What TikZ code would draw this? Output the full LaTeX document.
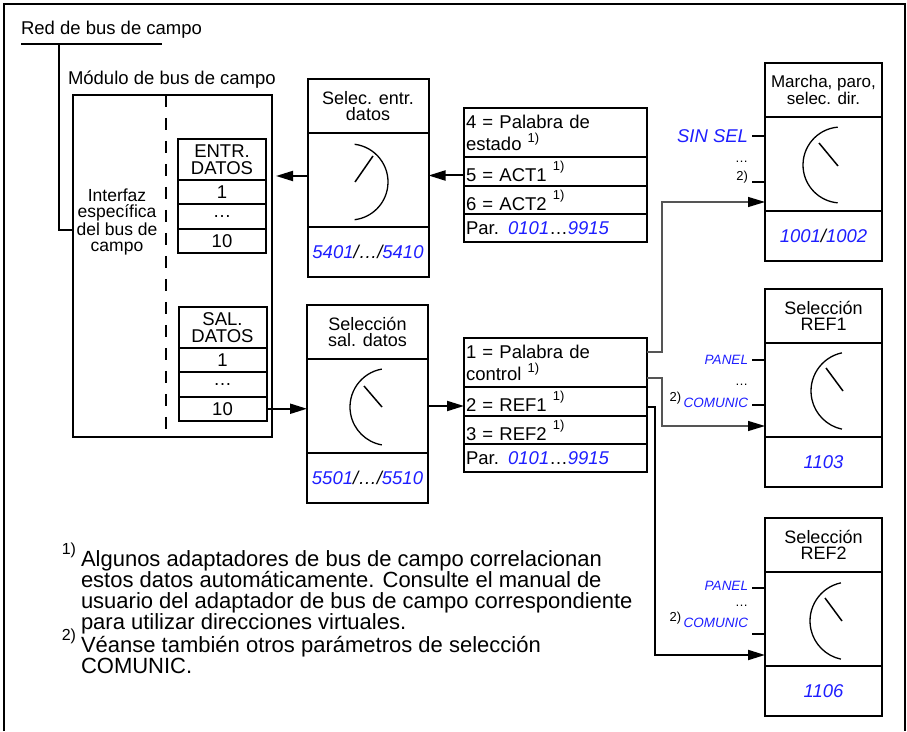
\documentclass[tikz,border=0pt]{standalone}
\usepackage{fontspec}
\setmainfont{Liberation Sans}
\usetikzlibrary{arrows.meta,positioning,calc}
\definecolor{parblue}{HTML}{1E1EFF}
\definecolor{wire}{HTML}{555555}
\newcommand{\supmark}[2][11pt]{\raisebox{#1}{\fontsize{13}{13}\selectfont\color{black}\upshape #2}}
\newcommand{\notemark}[1]{\raisebox{12pt}{\fontsize{16}{16}\selectfont #1}}
\newcommand{\parno}[1]{{\color{parblue}\itshape #1}}

\begin{document}
\begin{tikzpicture}[x=1pt,y=1pt,every node/.style={inner sep=0pt,outer sep=0pt},
  boxline/.style={draw,line width=2pt},
  selhead/.style={boxline,minimum width=121pt,minimum height=54pt,align=center,font=\fontsize{18}{16.5}\selectfont},
  selmid/.style={boxline,minimum width=121pt,minimum height=94pt},
  selpar/.style={boxline,minimum width=121pt,minimum height=50pt,font=\fontsize{18.5}{18.5}\selectfont\itshape},
  dathead/.style={boxline,minimum width=88pt,minimum height=41pt,align=center,font=\fontsize{18.5}{17}\selectfont},
  datrow/.style={boxline,minimum width=88pt,minimum height=24.3pt,font=\fontsize{18.5}{18}\selectfont},
  parrow/.style={boxline,text width=179pt,inner xsep=2pt,align=left,font=\fontsize{18.5}{22}\selectfont},
  txt/.style={font=\fontsize{18.5}{18.5}\selectfont},
  lbl/.style={font=\fontsize{18.5}{18.5}\selectfont\itshape,text=parblue},
  lblsm/.style={font=\fontsize{13.5}{13.5}\selectfont\itshape,text=parblue},
  dots/.style={font=\fontsize{13}{13}\selectfont},
  note/.style={font=\fontsize{22}{21}\selectfont,align=left,anchor=north west},
  bus/.style={line width=2pt},
  tick/.style={line width=2pt},
  dial/.style={line width=1.3pt},
  needle/.style={line width=1.5pt},
  arr/.style={line width=2pt,-{Triangle[length=17pt,width=10pt]}},
  thinarr/.style={line width=1.2pt,draw=wire,-{Triangle[length=17pt,width=10pt,color=black]}}]
\useasboundingbox (0,0) rectangle (907,731);
% frame
\draw[line width=1.2pt] (4,0) -- (4,727) -- (905,727) -- (905,0);

% fieldbus network and module
\node[txt,anchor=west] (net) at (21,701) {Red de bus de campo};
\coordinate (busl) at (21,687);
\coordinate (busr) at (162,687);
\coordinate (busj) at (59,687);
\node[boxline,minimum width=199pt,minimum height=342pt] (mod) at (172.5,465) {};
\node[txt,anchor=west] (modlbl) at (68,651) {Módulo de bus de campo};
\draw[bus] (busl) -- (busr);
\draw[bus] (busj) |- ([yshift=36pt]mod.west);
\draw[line width=2pt,dash pattern=on 12pt off 11pt] ([xshift=93pt]mod.north west) -- ([xshift=93pt]mod.south west);
\node[align=center,font=\fontsize{17.5}{16}\selectfont] (ifc) at (117,509) {Interfaz\\específica\\del bus de\\campo};

\node[dathead] (di0) at (222,571.5) {ENTR.\\DATOS};
\node[datrow,below=0pt of di0] (di1) {1};
\node[datrow,below=0pt of di1] (di2) {…};
\node[datrow,below=0pt of di2] (di3) {10};

\node[dathead] (do0) at (222.5,403.5) {SAL.\\DATOS};
\node[datrow,below=0pt of do0] (do1) {1};
\node[datrow,below=0pt of do1] (do2) {…};
\node[datrow,below=0pt of do2] (do3) {10};

% data set selectors
\node[selhead] (eshd) at (368,625) {Selec. entr.\\datos};
\node[selmid,below=0pt of eshd] (esmid) {};
\node[selpar,below=0pt of esmid] (espar) {\parno{5401}/…/\parno{5410}};
\draw[dial] ([shift={(-18pt,-2pt)}]esmid.center) ++(83:38pt) arc[start angle=83,end angle=-83,radius=38pt];
\draw[needle] ([shift={(-13pt,-2pt)}]esmid.center) -- ++(18pt,26pt);

\node[selhead] (sshd) at (367.5,399) {Selección\\sal. datos};
\node[selmid,below=0pt of sshd] (ssmid) {};
\node[selpar,below=0pt of ssmid] (sspar) {\parno{5501}/…/\parno{5510}};
\draw[dial] ([shift={(21pt,-1pt)}]ssmid.center) ++(100:38.5pt) arc[start angle=100,end angle=260,radius=38.5pt];
\draw[needle] ([shift={(14.5pt,-1pt)}]ssmid.center) -- ++(-18pt,21pt);

% status and control words
\node[parrow,minimum height=49pt] (st1) at (555.5,598.5) {4 = Palabra de\\estado \supmark[8pt]{1)}};
\node[parrow,minimum height=29pt,below=0pt of st1] (st2) {5 = ACT1 \supmark{1)}};
\node[parrow,minimum height=28pt,below=0pt of st2] (st3) {6 = ACT2 \supmark{1)}};
\node[parrow,minimum height=28pt,below=0pt of st3] (st4) {Par. \parno{0101}…\parno{9915}};

\node[parrow,minimum height=49pt] (ct1) at (555.5,368.5) {1 = Palabra de\\control \supmark[8pt]{1)}};
\node[parrow,minimum height=29pt,below=0pt of ct1] (ct2) {2 = REF1 \supmark{1)}};
\node[parrow,minimum height=28pt,below=0pt of ct2] (ct3) {3 = REF2 \supmark{1)}};
\node[parrow,minimum height=28pt,below=0pt of ct3] (ct4) {Par. \parno{0101}…\parno{9915}};

% drive selectors
\node[selhead,minimum width=117pt,font=\fontsize{17}{16.5}\selectfont] (mshd) at (823.5,641) {Marcha, paro,\\selec. dir.};
\node[selmid,minimum width=117pt,below=0pt of mshd] (msmid) {};
\node[selpar,minimum width=117pt,below=0pt of msmid] (mspar) {\parno{1001}/\parno{1002}};
\draw[dial] ([shift={(17.5pt,-1pt)}]msmid.center) ++(95:38pt) arc[start angle=95,end angle=265,radius=38pt];
\draw[needle] ([shift={(14.5pt,-2pt)}]msmid.center) -- ++(-19pt,23pt);
\draw[tick] ([yshift=-19pt]msmid.north west) -- ++(-13pt,0);
\node[lbl,anchor=east] (mssin) at ([xshift=-17pt,yshift=-19pt]msmid.north west) {SIN SEL};
\node[dots,anchor=base east] (msdot) at ([xshift=-17pt,yshift=-45.5pt]msmid.north west) {…};
\draw[tick] ([yshift=-65pt]msmid.north west) -- ++(-13pt,0);
\node[dots,anchor=east] (msnote) at ([xshift=-17pt,yshift=-60pt]msmid.north west) {2)};

\node[selhead,minimum width=117pt] (r1hd) at (823.5,415) {Selección\\REF1};
\node[selmid,minimum width=117pt,below=0pt of r1hd] (r1mid) {};
\node[selpar,minimum width=117pt,below=0pt of r1mid] (r1par) {\parno{1103}};
\draw[dial] ([shift={(26.5pt,-1pt)}]r1mid.center) ++(102:39pt) arc[start angle=102,end angle=258,radius=39pt];
\draw[needle] ([shift={(19.5pt,-1pt)}]r1mid.center) -- ++(-17pt,23pt);
\draw[tick] ([yshift=-17pt]r1mid.north west) -- ++(-13pt,0);
\node[lblsm,anchor=east] (r1pan) at ([xshift=-17pt,yshift=-17pt]r1mid.north west) {PANEL};
\node[dots,anchor=base east] (r1dot) at ([xshift=-17pt,yshift=-42.5pt]r1mid.north west) {…};
\draw[tick] ([yshift=-62pt]r1mid.north west) -- ++(-13pt,0);
\node[lblsm,anchor=base east] (r1com) at ([xshift=-17pt,yshift=-65pt]r1mid.north west) {\supmark[6pt]{2)}\,COMUNIC};

\node[selhead,minimum width=117pt] (r2hd) at (823.5,186) {Selección\\REF2};
\node[selmid,minimum width=117pt,below=0pt of r2hd] (r2mid) {};
\node[selpar,minimum width=117pt,below=0pt of r2mid] (r2par) {\parno{1106}};
\draw[dial] ([shift={(25.5pt,-2pt)}]r2mid.center) ++(102:39pt) arc[start angle=102,end angle=258,radius=39pt];
\draw[needle] ([shift={(18.5pt,-2pt)}]r2mid.center) -- ++(-17pt,23pt);
\draw[tick] ([yshift=-16pt]r2mid.north west) -- ++(-13pt,0);
\node[lblsm,anchor=east] (r2pan) at ([xshift=-17pt,yshift=-14pt]r2mid.north west) {PANEL};
\node[dots,anchor=base east] (r2dot) at ([xshift=-17pt,yshift=-34.5pt]r2mid.north west) {…};
\node[lblsm,anchor=base east] (r2com) at ([xshift=-17pt,yshift=-55pt]r2mid.north west) {\supmark[6pt]{2)}\,COMUNIC};
\draw[tick] ([yshift=-62pt]r2mid.north west) -- ++(-13pt,0);

% connections
\draw[arr] ([yshift=-4pt]st2.west) -- ([yshift=-4pt]st2.west -| esmid.east);
\draw[arr,shorten >=4pt] ([yshift=4pt]esmid.west) -- ([yshift=4pt]esmid.west -| mod.east);
\draw[arr] (do3.east) -- (do3.east -| ssmid.west);
\draw[arr] (ssmid.east) -- (ssmid.east -| ct2.west);
\draw[thinarr] ([yshift=10.5pt]ct1.east) -- ++(15pt,0) |- ([yshift=9pt]msmid.south west);
\draw[thinarr] ([yshift=-15.5pt]ct1.east) -- ++(15pt,0) |- ([yshift=11pt]r1mid.south west);
\draw[arr] ([yshift=-5.5pt]ct2.east) -- ++(8pt,0) |- ([yshift=11pt]r2mid.south west);

% notes
\node[note] (fn1) at (81,188) {\llap{\notemark{1)}\hspace{5pt}}Algunos adaptadores de bus de campo correlacionan\\estos datos automáticamente. Consulte el manual de\\usuario del adaptador de bus de campo correspondiente\\para utilizar direcciones virtuales.};
\node[note] (fn2) at (81,102) {\llap{\notemark{2)}\hspace{5pt}}Véanse también otros parámetros de selección\\COMUNIC.};
\end{tikzpicture}
\end{document}
